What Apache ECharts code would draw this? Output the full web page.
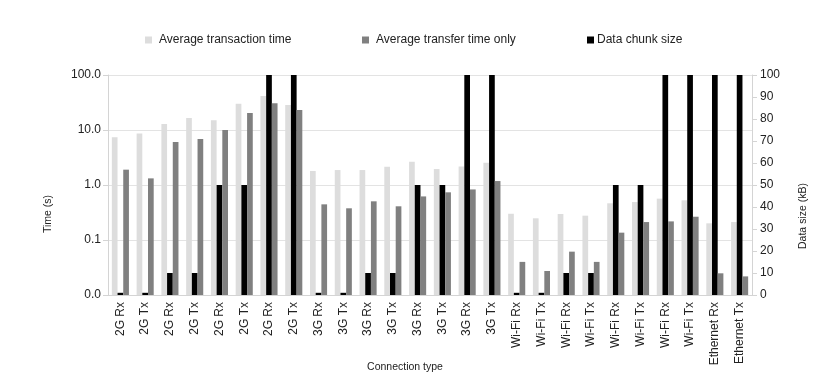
<!DOCTYPE html>
<html>
<head>
<meta charset="utf-8">
<title>Connection type timings</title>
<script src="https://cdn.jsdelivr.net/npm/echarts@6/dist/echarts.min.js"></script>
<style>
  html, body { margin: 0; padding: 0; background: #fff; }
  #chart { width: 822px; height: 385px; }
</style>
</head>
<body>
<div id="chart"></div>
<script>
// connection types along the x axis
var categories = ['2G Rx', '2G Tx', '2G Rx', '2G Tx', '2G Rx', '2G Tx', '2G Rx', '2G Tx',
  '3G Rx', '3G Tx', '3G Rx', '3G Tx', '3G Rx', '3G Tx', '3G Rx', '3G Tx',
  'Wi-Fi Rx', 'Wi-Fi Tx', 'Wi-Fi Rx', 'Wi-Fi Tx', 'Wi-Fi Rx', 'Wi-Fi Tx', 'Wi-Fi Rx', 'Wi-Fi Tx',
  'Ethernet Rx', 'Ethernet Tx']

// seconds (log axis)
var transactionTime = [7.4, 8.6, 12.9, 16.5, 15, 30, 41.5, 28.5,
  1.8, 1.87, 1.87, 2.15, 2.65, 1.95, 2.18, 2.55,
  0.30, 0.248, 0.297, 0.277, 0.465, 0.49, 0.565, 0.527,
  0.201, 0.212]
var transferTime = [1.9, 1.32, 6.05, 6.86, 10, 20.4, 30.5, 23.1,
  0.445, 0.377, 0.505, 0.41, 0.62, 0.736, 0.83, 1.18,
  0.040, 0.0273, 0.0614, 0.040, 0.136, 0.212, 0.218, 0.265,
  0.0248, 0.0218]
// kB (right axis)
var chunkSize = [1, 1, 10, 10, 50, 50, 100, 100,
  1, 1, 10, 10, 50, 50, 100, 100,
  1, 1, 10, 10, 50, 50, 100, 100,
  100, 100]

var leftTicks = [0.01, 0.1, 1, 10, 100]

var chart = echarts.init(document.getElementById('chart'))
var txt = '#222'
var axisGrey = '#d4d4d4'
var font = 'Liberation Sans, Arial, sans-serif'

function legendAt(left, name, gap) {
  return {
    left: left, top: 34, padding: 0, itemWidth: 7, itemHeight: 7, icon: 'rect',
    textStyle: { fontSize: 12, color: txt, padding: [0, 0, 0, gap] },
    data: [name]
  }
}

var option = {
  animation: false,
  textStyle: { fontFamily: font },
  legend: [
    legendAt(145, 'Average transaction time', 2),
    legendAt(362, 'Average transfer time only', 2),
    legendAt(587, 'Data chunk size', -2)
  ],
  grid: { left: 108, right: 70, top: 75, bottom: 90, containLabel: false },
  xAxis: {
    type: 'category',
    data: categories,
    axisLine: { lineStyle: { color: axisGrey } },
    axisTick: { length: 5, lineStyle: { color: axisGrey } },
    axisLabel: { rotate: 90, fontSize: 12, color: txt, margin: 7, interval: 0 }
  },
  yAxis: [
    {
      type: 'log',
      logBase: 10,
      min: leftTicks[0],
      max: leftTicks[leftTicks.length - 1],
      startValue: leftTicks[0],
      axisLine: { show: true, lineStyle: { color: axisGrey } },
      axisTick: { show: true, length: 5, lineStyle: { color: axisGrey } },
      splitLine: { lineStyle: { color: '#e3e3e3' } },
      axisLabel: {
        fontSize: 12, color: txt, margin: 7,
        formatter: function (v) { return Number(v).toFixed(1) }
      }
    },
    {
      type: 'value',
      min: 0,
      max: 100,
      interval: 10,
      position: 'right',
      axisLine: { show: true, lineStyle: { color: axisGrey } },
      axisTick: { show: true, length: 5, lineStyle: { color: axisGrey } },
      splitLine: { show: false },
      axisLabel: { fontSize: 12, color: txt, margin: 8 }
    }
  ],
  graphic: [
    { type: 'text', x: 48, y: 214, rotation: Math.PI / 2,
      style: { text: 'Time (s)', fontSize: 10.5, fill: txt, align: 'center', verticalAlign: 'middle', fontFamily: font } },
    { type: 'text', x: 803, y: 216, rotation: Math.PI / 2,
      style: { text: 'Data size (kB)', fontSize: 10.5, fill: txt, align: 'center', verticalAlign: 'middle', fontFamily: font } },
    { type: 'text', x: 405, y: 367,
      style: { text: 'Connection type', fontSize: 10.5, fill: txt, align: 'center', verticalAlign: 'middle', fontFamily: font } }
  ],
  series: [
    {
      name: 'Average transaction time',
      type: 'bar',
      yAxisIndex: 0,
      barGap: '0%',
      barCategoryGap: '31%',
      itemStyle: { color: '#dddddd' },
      data: transactionTime
    },
    {
      name: 'Data chunk size',
      type: 'bar',
      yAxisIndex: 1,
      itemStyle: { color: '#000000' },
      data: chunkSize
    },
    {
      name: 'Average transfer time only',
      type: 'bar',
      yAxisIndex: 0,
      itemStyle: { color: '#808080' },
      data: transferTime
    }
  ]
}
chart.setOption(option)
</script>
</body>
</html>
